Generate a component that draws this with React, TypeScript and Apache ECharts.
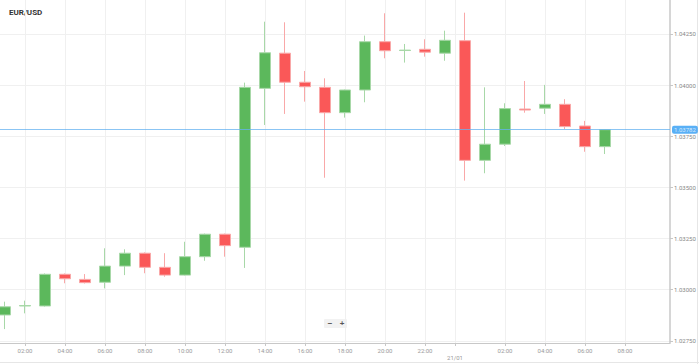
import React, { useEffect, useRef } from "react";
import * as echarts from "echarts";

const chartTitle = "EUR/USD";

// hourly candles (20/01 01:00 -> 21/01 07:00)
const candleTimes = [
  "20/01 01:00", "20/01 02:00", "20/01 03:00", "20/01 04:00", "20/01 05:00", "20/01 06:00",
  "20/01 07:00", "20/01 08:00", "20/01 09:00", "20/01 10:00", "20/01 11:00", "20/01 12:00",
  "20/01 13:00", "20/01 14:00", "20/01 15:00", "20/01 16:00", "20/01 17:00", "20/01 18:00",
  "20/01 19:00", "20/01 20:00", "20/01 21:00", "20/01 22:00", "20/01 23:00", "21/01 00:00",
  "21/01 01:00", "21/01 02:00", "21/01 03:00", "21/01 04:00", "21/01 05:00", "21/01 06:00",
  "21/01 07:00",
];
const openValues = [
  1.02876, 1.0292, 1.0292, 1.03075, 1.0305, 1.03036, 1.03115, 1.03178, 1.03109, 1.03071,
  1.03161, 1.03271, 1.03207, 1.03984, 1.04156, 1.04014, 1.03989, 1.03865, 1.03976, 1.04212,
  1.04169, 1.04175, 1.04156, 1.04217, 1.03632, 1.03711, 1.03883, 1.03887, 1.03906, 1.038,
  1.03699,
];
const closeValues = [
  1.02916, 1.02922, 1.03075, 1.03053, 1.03034, 1.03115, 1.03178, 1.03109, 1.03071, 1.03161,
  1.03271, 1.03215, 1.03989, 1.04158, 1.04014, 1.03992, 1.03865, 1.03976, 1.04212, 1.04168,
  1.04171, 1.04161, 1.04219, 1.03632, 1.03711, 1.03885, 1.03878, 1.03906, 1.03797, 1.03699,
  1.03782,
];
const lowValues = [
  1.02807, 1.02884, 1.02917, 1.03031, 1.0303, 1.03006, 1.03071, 1.0308, 1.03063, 1.03069,
  1.03141, 1.03161, 1.03106, 1.03805, 1.03859, 1.03919, 1.03547, 1.03841, 1.03916, 1.04131,
  1.0411, 1.04139, 1.04119, 1.03533, 1.03569, 1.03702, 1.03865, 1.03859, 1.03785, 1.03674,
  1.03663,
];
const highValues = [
  1.02941, 1.02946, 1.03079, 1.03079, 1.03076, 1.03202, 1.03197, 1.03182, 1.03178, 1.03234,
  1.03274, 1.03274, 1.04012, 1.0431, 1.04307, 1.04069, 1.04033, 1.03978, 1.04242, 1.04351,
  1.04201, 1.04224, 1.04266, 1.04354, 1.03989, 1.03911, 1.0402, 1.04001, 1.03931, 1.03825,
  1.03785,
];

const yTickValues = [1.0275, 1.03, 1.0325, 1.035, 1.0375, 1.04, 1.0425];
const yMin = 1.02739;
const yMax = 1.04416;
const lastPrice = 1.03782;

const xLabelCats = [
  "20/01 02:00", "20/01 04:00", "20/01 06:00", "20/01 08:00", "20/01 10:00", "20/01 12:00",
  "20/01 14:00", "20/01 16:00", "20/01 18:00", "20/01 20:00", "20/01 22:00",
  "21/01 02:00", "21/01 04:00", "21/01 06:00", "21/01 08:00",
];
const dayMarkerCat = "20/01 23:30";
const dayMarkerLabel = "21/01";

// half-hour slots from 20/01 01:00 to 21/01 10:00
const pad = (n: number) => (n < 10 ? "0" + n : "" + n);
const categories: string[] = [];
for (let m = 60; m <= 24 * 60 + 600; m += 30) {
  const day = m >= 24 * 60 ? "21/01" : "20/01";
  const mm = m % (24 * 60);
  categories.push(`${day} ${pad(Math.floor(mm / 60))}:${pad(mm % 60)}`);
}

export default function App() {
  const ref = useRef<HTMLDivElement>(null);
  useEffect(() => {
    if (!ref.current) return;
    const chart = echarts.init(ref.current, null, { renderer: "svg" });
    const data: any[] = categories.map((c) => {
      const i = candleTimes.indexOf(c);
      if (i < 0) return "-";
      return [openValues[i], closeValues[i], lowValues[i], highValues[i]];
    });
    const isLabelled = (_i: number, v: string) =>
      xLabelCats.indexOf(v) >= 0 || v === dayMarkerCat;
    chart.setOption({
      animation: false,
      backgroundColor: "#ffffff",
      grid: { left: 0, right: 29, top: 0, bottom: 21, containLabel: false },
      xAxis: {
        type: "category",
        data: categories,
        boundaryGap: true,
        axisLine: { show: true, lineStyle: { color: "#c8c8c8", width: 1 } },
        axisTick: {
          show: true,
          alignWithLabel: true,
          interval: isLabelled,
          length: 3,
          lineStyle: { color: "#c8c8c8" },
        },
        axisLabel: {
          interval: isLabelled,
          fontSize: 6,
          color: "#999",
          margin: 4,
          fontFamily: "Roboto, sans-serif",
          formatter: (v: string) =>
            v === dayMarkerCat ? "\n" + dayMarkerLabel : v.split(" ")[1],
          lineHeight: 7,
        },
        splitLine: {
          show: true,
          alignWithLabel: true,
          interval: isLabelled,
          lineStyle: { color: "#f0f0f0", width: 1 },
        },
      },
      yAxis: {
        type: "value",
        position: "right",
        min: yMin,
        max: yMax,
        scale: true,
        axisLine: { show: true, lineStyle: { color: "#c8c8c8", width: 1.5 } },
        axisTick: { show: true, length: 3, customValues: yTickValues, lineStyle: { color: "#c8c8c8" } },
        axisLabel: {
          customValues: yTickValues,
          fontSize: 6,
          color: "#888",
          margin: 4,
          fontFamily: "Roboto, sans-serif",
          formatter: (v: number) => v.toFixed(5),
        },
        splitLine: { show: true, lineStyle: { color: "#f0f0f0", width: 1 } },
      },
      series: [
        {
          type: "candlestick",
          data,
          barWidth: 12,
          itemStyle: {
            color: "#5cb85c",
            color0: "#fa5858",
            borderColor: "#a8d8a8",
            borderColor0: "#f9a8a8",
            borderWidth: 1,
          },
          markLine: {
            silent: true,
            precision: 5,
            symbol: ["none", "none"],
            data: [{ yAxis: lastPrice }],
            lineStyle: { color: "#64b1f0", width: 1, type: "solid", opacity: 0.75 },
            emphasis: { disabled: true },
            label: {
              show: true,
              position: "end",
              distance: 2,
              formatter: () => lastPrice.toFixed(5),
              backgroundColor: "#2196f3",
              color: "#fff",
              fontSize: 6,
              padding: [1, 2, 1, 2],
              borderRadius: 2,
              fontFamily: "Roboto, sans-serif",
            },
          },
        },
      ],
      graphic: [
        {
          type: "text",
          left: 9,
          top: 8,
          style: {
            text: chartTitle,
            fontSize: 8,
            fontWeight: "bold",
            fill: "#333",
            fontFamily: "Roboto, sans-serif",
          },
        },
        {
          type: "group",
          left: 324,
          top: 319,
          children: [
            { type: "rect", shape: { x: 0, y: 0, width: 23, height: 9, r: 1 }, style: { fill: "#f2f2f2" } },
            { type: "text", x: 6, y: 4.5, style: { text: "−", fontSize: 8, fontWeight: "bold", fill: "#555", align: "center", verticalAlign: "middle" } },
            { type: "text", x: 18, y: 4.5, style: { text: "+", fontSize: 8, fontWeight: "bold", fill: "#555", align: "center", verticalAlign: "middle" } },
          ],
        },
        {
          type: "line",
          shape: { x1: 0, y1: 362.5, x2: 699, y2: 362.5 },
          style: { stroke: "#e6e6e6", lineWidth: 1 },
        },
        {
          type: "line",
          shape: { x1: 697.5, y1: 0, x2: 697.5, y2: 364 },
          style: { stroke: "#e6e6e6", lineWidth: 1 },
        },
      ],
    });
    return () => chart.dispose();
  }, []);
  return (
    <div
      ref={ref}
      style={{ position: "absolute", left: 0, top: 0, width: 699, height: 364, background: "#fff" }}
    />
  );
}
